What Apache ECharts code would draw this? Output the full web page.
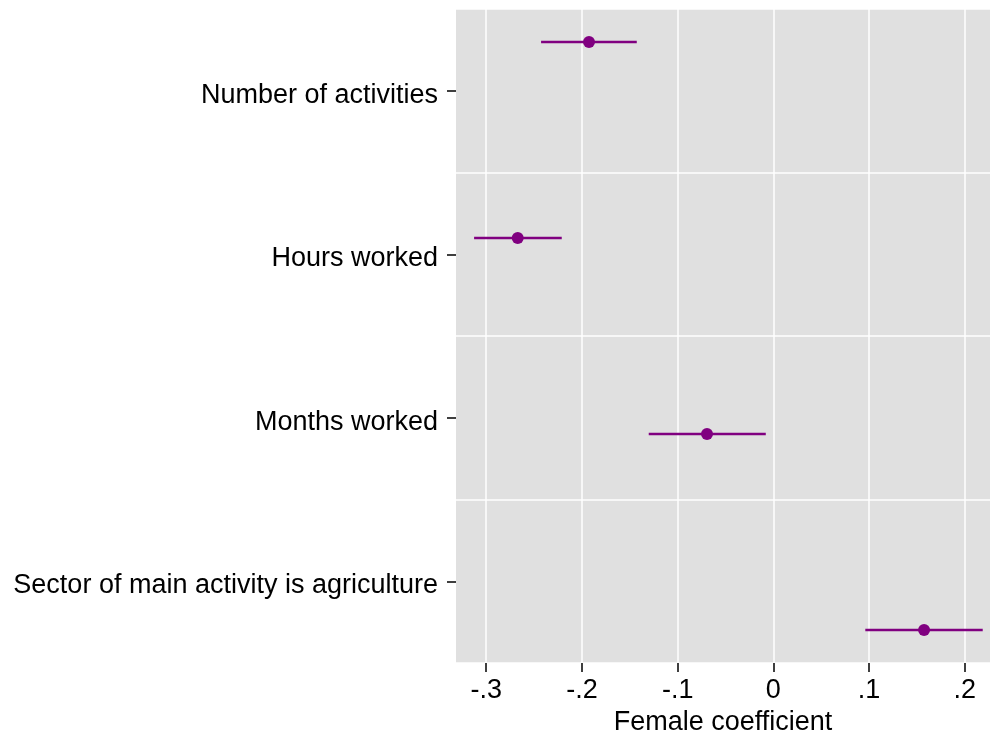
<!DOCTYPE html>
<html>
<head>
<meta charset="utf-8">
<script src="https://cdn.jsdelivr.net/npm/echarts@6/dist/echarts.min.js"></script>
<style>
  html, body { margin: 0; padding: 0; background: #fff; }
  #chart { width: 990px; height: 735px; }
</style>
</head>
<body>
<div id="chart"></div>
<script>
const categories = ['Number of activities', 'Hours worked', 'Months worked', 'Sector of main activity is agriculture'];
const coef  = [-0.1926, -0.2671, -0.0693, 0.1575];
const ciLow = [-0.2427, -0.3127, -0.1302, 0.0961];
const ciHigh = [-0.1427, -0.2211, -0.0079, 0.2188];
const xTicks = [-0.3, -0.2, -0.1, 0, 0.1, 0.2];

const FONT = 'Liberation Sans, Arial, sans-serif';
const PURPLE = '#800080';

function fmt(v) {
  const r = Math.round(v * 10) / 10;
  if (r === 0) return '0';
  return (r < 0 ? '-' : '') + String(Math.abs(r)).replace(/^0/, '');
}

const pointData = coef.map((c, i) => [c, i + 1]);
const ciData = coef.map((c, i) => [ciLow[i], ciHigh[i], i + 1]);

const chart = echarts.init(document.getElementById('chart'), null, { renderer: 'canvas' });
chart.setOption({
  animation: false,
  backgroundColor: '#ffffff',
  grid: {
    left: 456, top: 9, width: 534, height: 654,
    show: true, backgroundColor: '#e0e0e0', borderWidth: 0,
    containLabel: false,
    outerBoundsMode: 'none'
  },
  xAxis: {
    type: 'value',
    min: -0.3316, max: 0.2264,
    axisLine: { show: false, onZero: false },
    axisTick: { show: true, length: 9, lineStyle: { color: '#000', width: 1.5 }, customValues: xTicks },
    axisLabel: { customValues: xTicks, formatter: fmt, color: '#000', fontSize: 27, fontFamily: FONT, margin: 14 },
    splitLine: { show: true, lineStyle: { color: '#ffffff', width: 1.5 } },
    name: 'Female coefficient',
    nameLocation: 'middle',
    nameGap: 43,
    nameTextStyle: { color: '#000', fontSize: 27, fontFamily: FONT }
  },
  yAxis: [
    {
      type: 'category',
      data: categories,
      inverse: true,
      axisLine: { show: false, onZero: false },
      axisTick: { show: true, alignWithLabel: true, length: 9, lineStyle: { color: '#000', width: 1.5 } },
      axisLabel: {
        color: '#000', fontSize: 27, fontFamily: FONT, margin: 18,
        formatter: function (v) { return '{a|' + v + '}'; },
        rich: { a: { color: '#000', fontSize: 27, fontFamily: FONT, padding: [9, 0, 0, 0] } }
      },
      splitLine: { show: true, lineStyle: { color: '#ffffff', width: 1.5 } }
    },
    {
      type: 'value',
      inverse: true,
      min: 0.8316, max: 4.1684,
      show: false,
      splitLine: { show: false }
    }
  ],
  series: [
    {
      type: 'custom',
      yAxisIndex: 1,
      data: ciData,
      encode: { x: [0, 1], y: 2 },
      renderItem: function (params, api) {
        const p1 = api.coord([api.value(0), api.value(2)]);
        const p2 = api.coord([api.value(1), api.value(2)]);
        return {
          type: 'line',
          shape: { x1: p1[0], y1: p1[1], x2: p2[0], y2: p2[1] },
          style: { stroke: PURPLE, lineWidth: 2.5 }
        };
      },
      z: 3
    },
    {
      type: 'scatter',
      yAxisIndex: 1,
      data: pointData,
      symbol: 'circle',
      symbolSize: 12,
      itemStyle: { color: PURPLE, opacity: 1 },
      z: 4
    }
  ]
});
</script>
</body>
</html>
